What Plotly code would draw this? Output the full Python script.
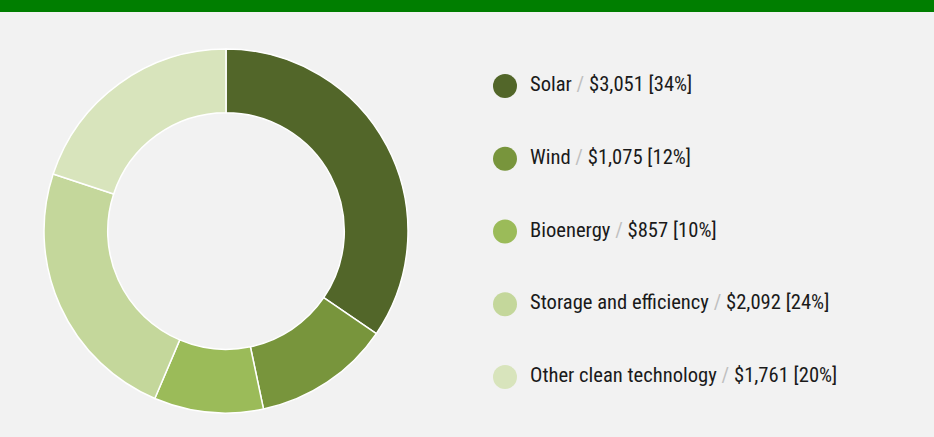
import plotly.graph_objects as go

categories = ["Solar", "Wind", "Bioenergy", "Storage and efficiency", "Other clean technology"]
values = [3051, 1075, 857, 2092, 1761]
pct_labels = ["34%", "12%", "10%", "24%", "20%"]
colors = ["#526629", "#78953c", "#9bbb59", "#c4d79b", "#d8e4bc"]

W, H = 934, 437
bg = "#f2f2f2"

fig = go.Figure()

# donut
cx0, cx1, cy0, cy1 = 44, 408, 49, 413
fig.add_trace(go.Pie(
    labels=categories, values=values, sort=False, direction="clockwise", rotation=0,
    hole=0.65, marker=dict(colors=colors, line=dict(color="white", width=1.5)),
    textinfo="none", hoverinfo="label+value+percent", showlegend=False,
    domain=dict(x=[cx0 / W, cx1 / W], y=[1 - cy1 / H, 1 - cy0 / H]),
))

# legend built as scatter
leg_x = 505
leg_y0, leg_dy = 86, 72.75
ys = [leg_y0 + i * leg_dy for i in range(len(categories))]
texts = [f"{c} <span style='color:#bfbfbf'>/</span> ${v:,} [{p}]" for c, v, p in zip(categories, values, pct_labels)]
fig.add_trace(go.Scatter(
    x=[leg_x] * len(categories), y=ys, mode="markers",
    marker=dict(size=24, color=colors, line=dict(width=0)),
    hoverinfo="skip", showlegend=False, cliponaxis=False,
))
fig.add_trace(go.Scatter(
    x=[leg_x + 25] * len(categories), y=ys, mode="text",
    text=texts, textposition="middle right",
    textfont=dict(family="Liberation Sans Narrow, Roboto Condensed, Arial Narrow, sans-serif", size=20.6, color="#1a1a1a"),
    hoverinfo="skip", showlegend=False, cliponaxis=False,
))

fig.add_shape(type="rect", xref="paper", yref="paper", x0=0, x1=1, y0=1 - 12 / H, y1=1,
              fillcolor="#007e00", line=dict(width=0), layer="above")

fig.update_layout(
    width=W, height=H, margin=dict(l=0, r=0, t=0, b=0),
    paper_bgcolor=bg, plot_bgcolor=bg,
    xaxis=dict(range=[0, W], visible=False, fixedrange=True),
    yaxis=dict(range=[H, 0], visible=False, fixedrange=True),
)

fig.write_html("out.html")
